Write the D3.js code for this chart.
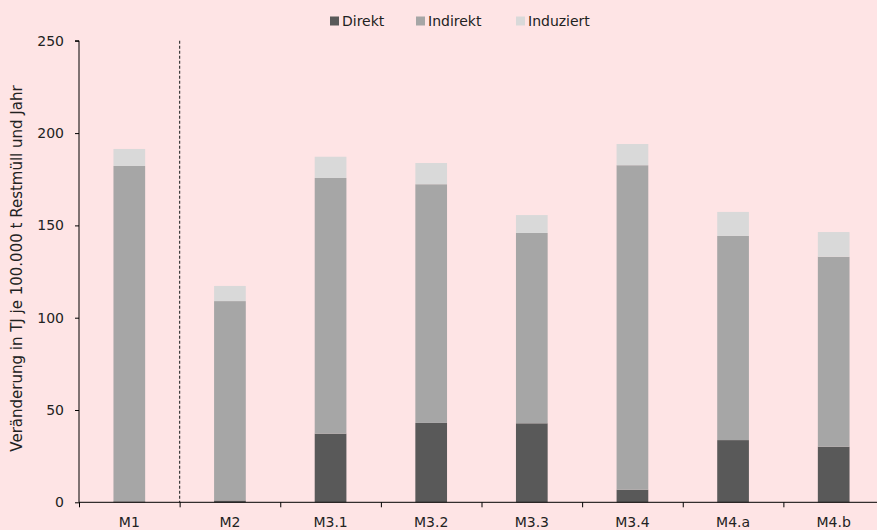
<!DOCTYPE html>
<html><head><meta charset="utf-8">
<script src="https://cdn.jsdelivr.net/npm/d3@7"></script>
<style>
html,body{margin:0;padding:0;background:#fee4e5;}
svg{display:block;font-family:"DejaVu Sans",sans-serif;}
</style></head>
<body>
<svg id="chart" width="877" height="530"></svg>
<script>
const categories = ["M1","M2","M3.1","M3.2","M3.3","M3.4","M4.a","M4.b"];
const seriesNames = ["Direkt","Indirekt","Induziert"];
const direkt    = [0.5, 1.0, 37.2, 43.0, 42.8, 6.8, 33.7, 30.1];
const indirekt  = [181.7, 108.0, 138.5, 129.3, 103.1, 175.8, 110.6, 102.9];
const induziert = [9.2, 8.2, 11.5, 11.5, 9.7, 11.5, 13.0, 13.4];
const yTicks = [0, 50, 100, 150, 200, 250];
const colors = ["#595959", "#a6a6a6", "#d9d9d9"];
const yLabel = "Veränderung in TJ je 100.000 t Restmüll und Jahr";

const svg = d3.select("#chart");
svg.append("rect").attr("width",877).attr("height",530).attr("fill","#fee4e5");

const mLeft = 79, mRight = 884, mTop = 40.8, mBottom = 502.3;
const x = d3.scaleBand().domain(categories).range([mLeft, mRight]).padding(0);
const xb = d3.scaleLinear().domain([0, categories.length]).range([mLeft, mRight]);
const y = d3.scaleLinear().domain([0, 250]).range([mBottom, mTop]);

const rows = categories.map((c, i) => ({cat: c, Direkt: direkt[i], Indirekt: indirekt[i], Induziert: induziert[i]}));
const stacked = d3.stack().keys(seriesNames)(rows);
const barW = x.bandwidth() * 0.315;

svg.append("g").selectAll("g").data(stacked).join("g")
  .attr("fill", (d, i) => colors[i])
  .selectAll("rect").data(d => d).join("rect")
  .attr("x", d => x(d.data.cat) + (x.bandwidth() - barW) / 2)
  .attr("width", barW)
  .attr("y", d => y(d[1]))
  .attr("height", d => y(d[0]) - y(d[1]));

// dashed separator between M1 and M2
svg.append("line")
  .attr("x1", xb(1)).attr("x2", xb(1))
  .attr("y1", y(250)).attr("y2", y(0))
  .attr("stroke", "#3a3a3a").attr("stroke-width", 1.2)
  .attr("stroke-dasharray", "3,2");

// y axis
const yAxis = svg.append("g").attr("transform", `translate(${mLeft},0)`)
  .call(d3.axisLeft(y).tickValues(yTicks).tickSize(4).tickPadding(11).tickFormat(d3.format("d")));
yAxis.select(".domain").attr("stroke", "#000").attr("d", `M-4,${y(250)}H0V${y(0)}`);
yAxis.selectAll("line").attr("stroke", "#000");
yAxis.selectAll("text").attr("font-size", 14).attr("fill", "#222").attr("font-family", "DejaVu Sans");

// x axis (boundary ticks)
const xAxisB = svg.append("g").attr("transform", `translate(0,${mBottom})`)
  .call(d3.axisBottom(xb).tickValues(d3.range(0, categories.length + 1)).tickSize(5).tickFormat(""));
xAxisB.select(".domain").attr("stroke", "#000").attr("d", `M${mLeft},0H${mRight}`);
xAxisB.selectAll("line").attr("stroke", "#000");

// category labels
const xAxis = svg.append("g").attr("transform", `translate(0,${mBottom})`)
  .call(d3.axisBottom(x).tickSize(0).tickPadding(15));
xAxis.select(".domain").remove();
xAxis.selectAll("text").attr("font-size", 14).attr("fill", "#222").attr("font-family", "DejaVu Sans");

// y label
svg.append("text")
  .attr("transform", `translate(22,268.5) rotate(-90)`)
  .attr("text-anchor", "middle")
  .attr("font-size", 15).attr("fill", "#222")
  .text(yLabel);

// legend
const legendX = [330, 416, 516];
const lg = svg.append("g").selectAll("g").data(seriesNames).join("g")
  .attr("transform", (d, i) => `translate(${legendX[i]},15)`);
lg.append("rect").attr("width", 9).attr("height", 9).attr("y", 1.5).attr("fill", (d, i) => colors[i]);
lg.append("text").attr("x", 12).attr("y", 11).attr("font-size", 14).attr("fill", "#222").text(d => d);
</script>
</body></html>
